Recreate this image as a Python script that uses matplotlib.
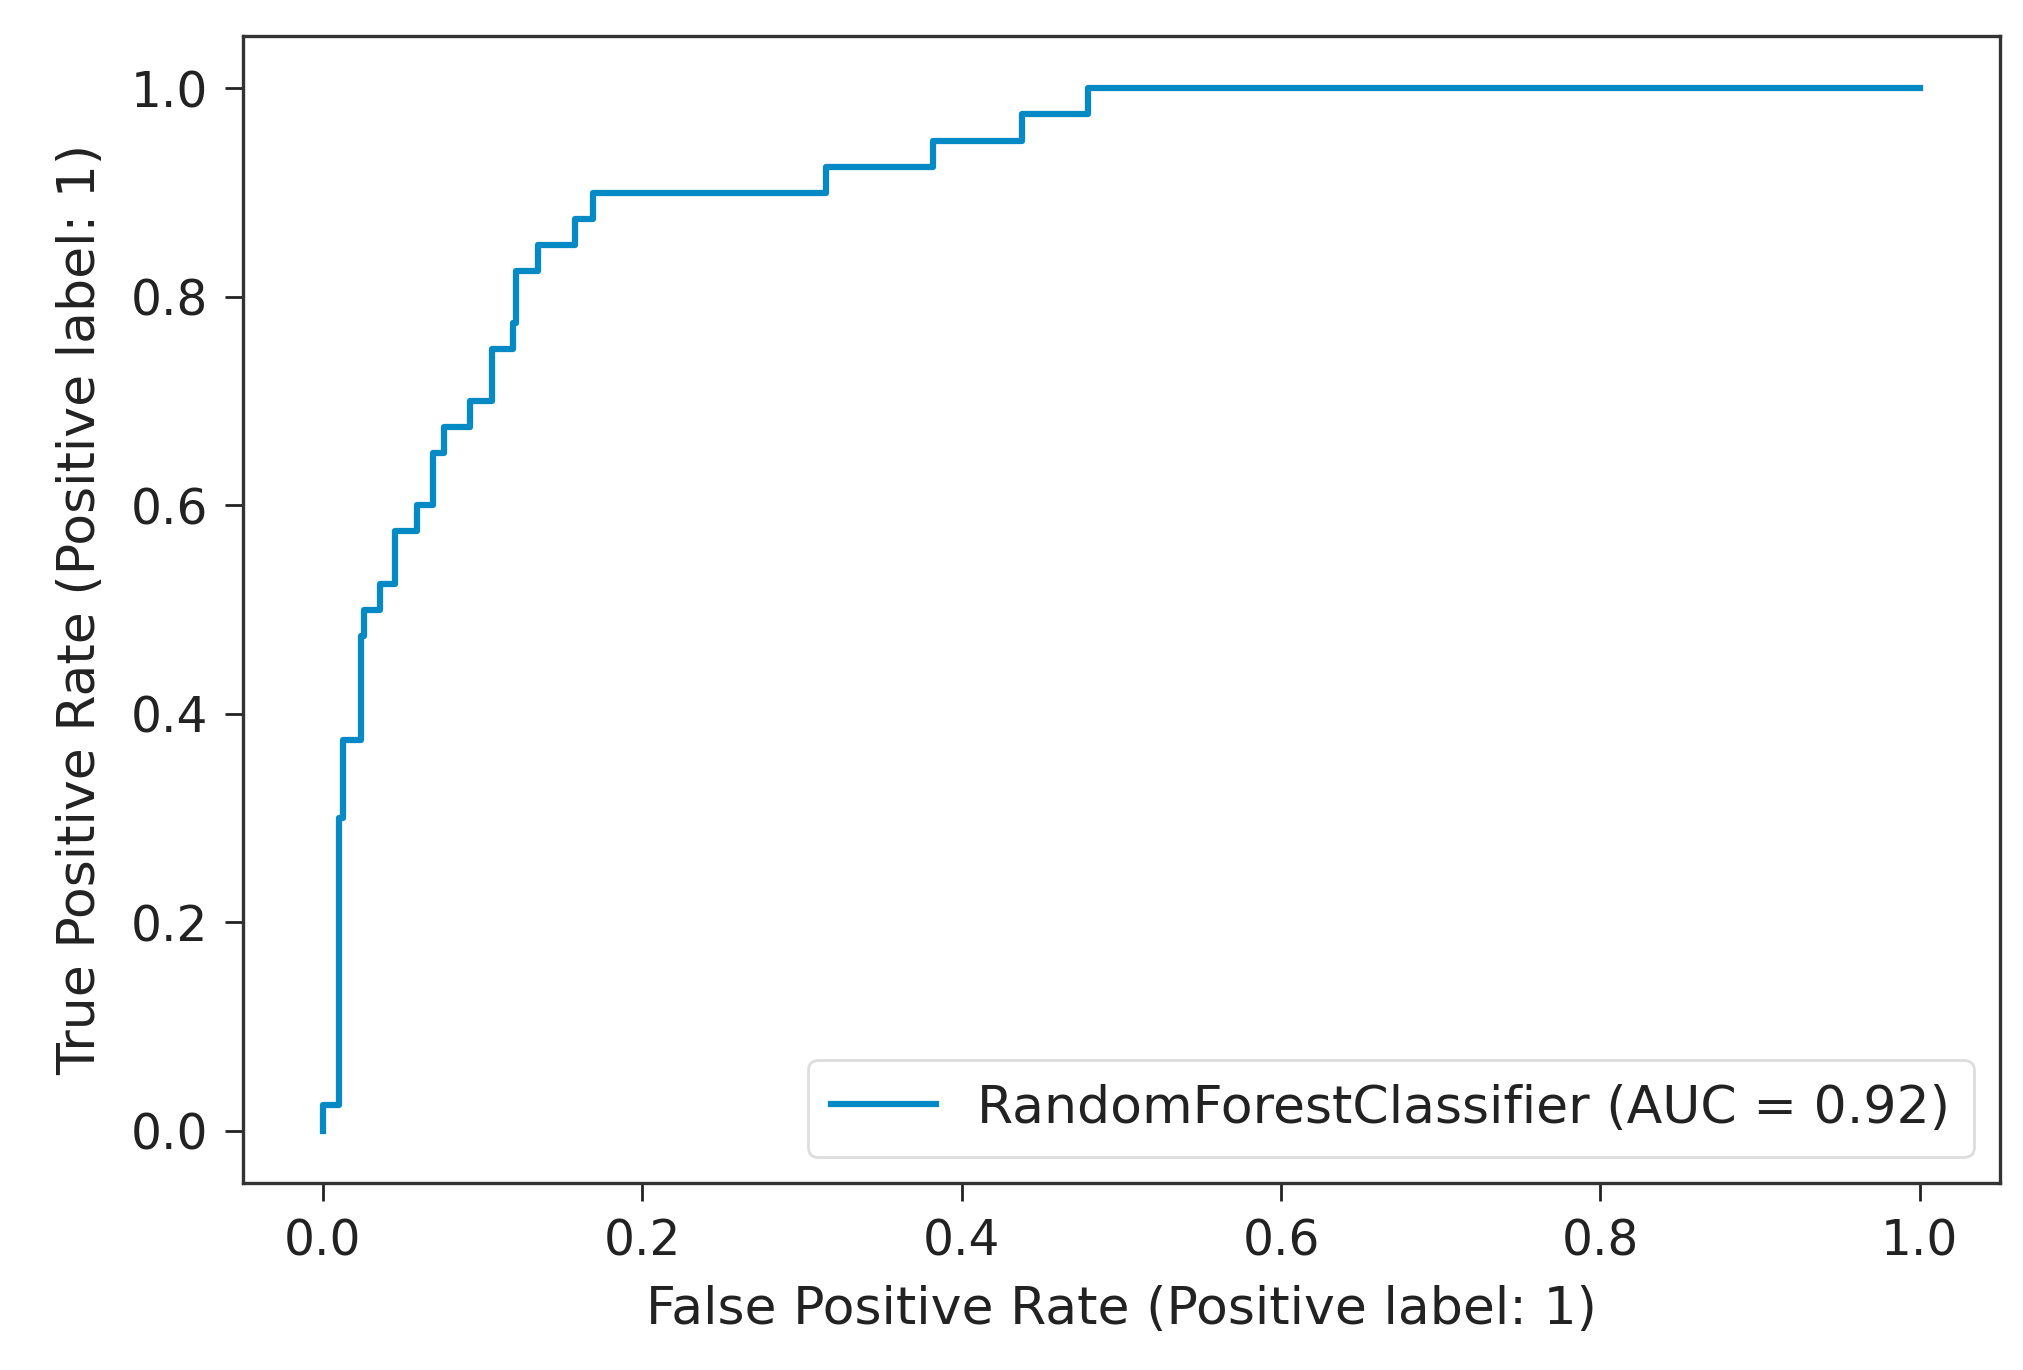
import matplotlib.pyplot as plt

# ROC curve points
fpr = [0.0, 0.0, 0.01, 0.01, 0.013, 0.013, 0.024, 0.024, 0.026, 0.026,
       0.036, 0.036, 0.045, 0.045, 0.059, 0.059, 0.069, 0.069, 0.076, 0.076,
       0.092, 0.092, 0.106, 0.106, 0.119, 0.119, 0.121, 0.121, 0.135, 0.135,
       0.158, 0.158, 0.169, 0.169, 0.315, 0.315, 0.382, 0.382, 0.438, 0.438,
       0.479, 0.479, 1.0]
tpr = [0.0, 0.025, 0.025, 0.3, 0.3, 0.375, 0.375, 0.475, 0.475, 0.5,
       0.5, 0.525, 0.525, 0.575, 0.575, 0.6, 0.6, 0.65, 0.65, 0.675,
       0.675, 0.7, 0.7, 0.75, 0.75, 0.775, 0.775, 0.825, 0.825, 0.85,
       0.85, 0.875, 0.875, 0.9, 0.9, 0.925, 0.925, 0.95, 0.95, 0.975,
       0.975, 1.0, 1.0]
label = 'RandomForestClassifier (AUC = 0.92)'
ticks = [0.0, 0.2, 0.4, 0.6, 0.8, 1.0]

plt.rcParams['font.family'] = 'DejaVu Sans'
fig = plt.figure(figsize=(20.24, 13.7), dpi=100)
ax = fig.add_axes([0.12, 0.1365, 0.868, 0.837])

ax.plot(fpr, tpr, color='#058ac6', lw=4.5, label=label)

ax.set_xticks(ticks)
ax.set_yticks(ticks)
ax.set_xticklabels([f'{t:.1f}' for t in ticks])
ax.set_yticklabels([f'{t:.1f}' for t in ticks])
ax.tick_params(labelsize=35, length=13, width=2, colors='#222222', pad=12)
ax.set_xlim(-0.05, 1.05)
ax.set_ylim(-0.05, 1.05)
ax.set_xlabel('False Positive Rate (Positive label: 1)', fontsize=37.5, color='#222222', labelpad=14)
ax.set_ylabel('True Positive Rate (Positive label: 1)', fontsize=37.5, color='#222222', labelpad=18)
for s in ax.spines.values():
    s.set_linewidth(2.4)
    s.set_color('#333333')

leg = ax.legend(loc='lower right', fontsize=37.5, handlelength=2.0, borderpad=0.45,
                framealpha=1, edgecolor='#dddddd')
leg.get_frame().set_linewidth(2)
for t in leg.get_texts():
    t.set_color('#222222')

fig.savefig('out.png', dpi=100)
